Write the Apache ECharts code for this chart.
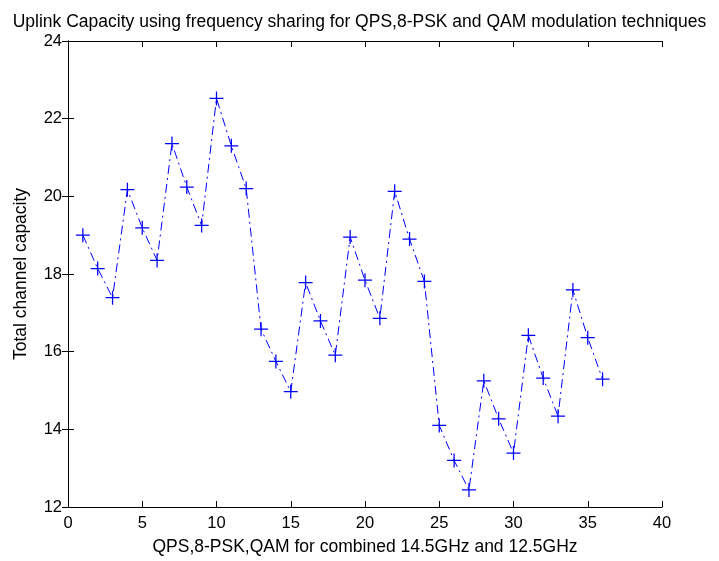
<!DOCTYPE html>
<html>
<head>
<meta charset="utf-8">
<script src="https://cdn.jsdelivr.net/npm/echarts@6/dist/echarts.min.js"></script>
<style>
html, body { margin: 0; padding: 0; background: #fff; }
#chart { width: 719px; height: 561px; }
</style>
</head>
<body>
<div id="chart"></div>
<script>
'use strict';

// x positions (1..36) and the capacity
const xIndex = [1, 2, 3, 4, 5, 6, 7, 8, 9, 10, 11, 12, 13, 14, 15, 16, 17, 18,
    19, 20, 21, 22, 23, 24, 25, 26, 27, 28, 29, 30, 31, 32, 33, 34, 35, 36];
const capacity = [19.0, 18.14, 17.39, 20.17, 19.19, 18.35, 21.36, 20.24, 19.25, 22.52, 21.30, 20.20,
    16.58, 15.75, 14.97, 17.78, 16.79, 15.91, 18.95, 17.84, 16.86, 20.13, 18.90, 17.81,
    14.10, 13.20, 12.44, 15.25, 14.27, 13.39, 16.42, 15.32, 14.34, 17.59, 16.36, 15.29];

const titleText = 'Uplink Capacity using frequency sharing for QPS,8-PSK and QAM modulation techniques';
const xName = 'QPS,8-PSK,QAM for combined 14.5GHz and 12.5GHz';
const yName = 'Total channel capacity';

const chart = echarts.init(document.getElementById('chart'));

const font = 'Liberation Sans, Arial, sans-serif';
const plus = 'path://M0,4.55H10V5.45H0Z M4.55,0H5.45V10H4.55Z';

const pts = xIndex.map((x, i) => [x, capacity[i]]);

const tickAxis = {
    axisLine: { show: true, lineStyle: { color: '#000', width: 1 } },
    axisTick: { show: true, inside: true, length: 6, lineStyle: { color: '#000' } },
    splitLine: { show: false }
};

const option = {
    animation: false,
    backgroundColor: '#fff',
    title: {
        text: titleText,
        left: 'center',
        top: 8,
        textStyle: { fontFamily: font, fontSize: 17.5, fontWeight: 'normal', color: '#000' }
    },
    grid: { left: 68, right: 57, top: 41, bottom: 52 },
    xAxis: [{
        type: 'value', min: 0, max: 40, interval: 5,
        name: xName, nameLocation: 'middle', nameGap: 31,
        nameTextStyle: { fontFamily: font, fontSize: 17.5, color: '#000' },
        axisLabel: { fontFamily: font, fontSize: 16.5, color: '#000', margin: 8 },
        ...tickAxis
    }, {
        type: 'value', min: 0, max: 40, interval: 5, position: 'top',
        axisLabel: { show: false },
        ...tickAxis
    }],
    yAxis: [{
        type: 'value', min: 12, max: 24, interval: 2,
        name: yName, nameLocation: 'middle', nameGap: 38,
        nameTextStyle: { fontFamily: font, fontSize: 17.5, color: '#000' },
        axisLabel: { fontFamily: font, fontSize: 16.5, color: '#000', margin: 6 },
        ...tickAxis
    }, {
        type: 'value', min: 12, max: 24, interval: 2, position: 'right',
        axisLabel: { show: false },
        ...tickAxis
    }],
    series: [{
        type: 'line',
        data: pts,
        symbol: plus,
        symbolSize: 14,
        showAllSymbol: true,
        itemStyle: { color: '#0000ff' },
        lineStyle: { color: '#0000ff', width: 1, type: [9, 4, 2, 4] }
    }]
};

chart.setOption(option);
</script>
</body>
</html>
